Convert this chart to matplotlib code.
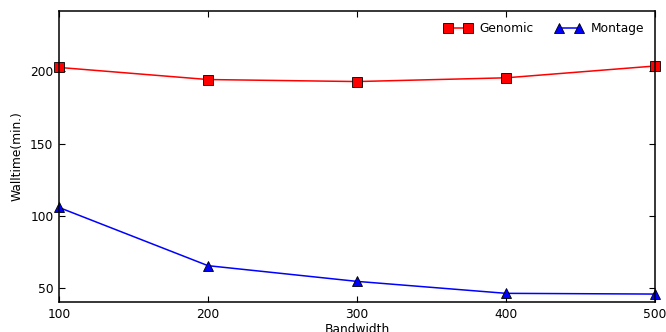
import matplotlib
matplotlib.use("Agg")
import matplotlib.pyplot as plt

bandwidth = [100, 200, 300, 400, 500]
genomic = [202.8, 194.4, 193.0, 195.6, 203.8]
montage = [105.6, 65.2, 54.3, 46.0, 45.5]

plt.rcParams['font.family'] = ['DejaVu Sans']
plt.rcParams['font.size'] = 8.8

fig = plt.figure(figsize=(6.66, 3.32), dpi=100)
ax = fig.add_axes([0.0886, 0.0904, 0.8949, 0.8766])

ax.plot(bandwidth, genomic, color='red', marker='s', markersize=7,
        markerfacecolor='red', markeredgecolor='black', markeredgewidth=0.6,
        linewidth=1.1, label='Genomic', clip_on=False)
ax.plot(bandwidth, montage, color='blue', marker='^', markersize=7,
        markerfacecolor='blue', markeredgecolor='black', markeredgewidth=0.6,
        linewidth=1.1, label='Montage', clip_on=False)

ax.set_xlim(100, 500)
ax.set_ylim(40, 242)
ax.set_xticks([100, 200, 300, 400, 500])
ax.set_yticks([50, 100, 150, 200])
ax.tick_params(direction='in', top=True, right=True, length=4.5, width=0.8,
               labelsize=8.8, pad=4)
for s in ax.spines.values():
    s.set_linewidth(1.1)

ax.set_xlabel('Bandwidth', fontsize=8.8, labelpad=2)
ax.set_ylabel('Walltime(min.)', fontsize=8.8, labelpad=5)

ax.legend(loc='upper right', ncol=2, frameon=False, numpoints=2,
          fontsize=8.8, handlelength=2.2, columnspacing=1.8,
          handletextpad=0.65, borderaxespad=0.5)

fig.savefig('out.png', dpi=100)
